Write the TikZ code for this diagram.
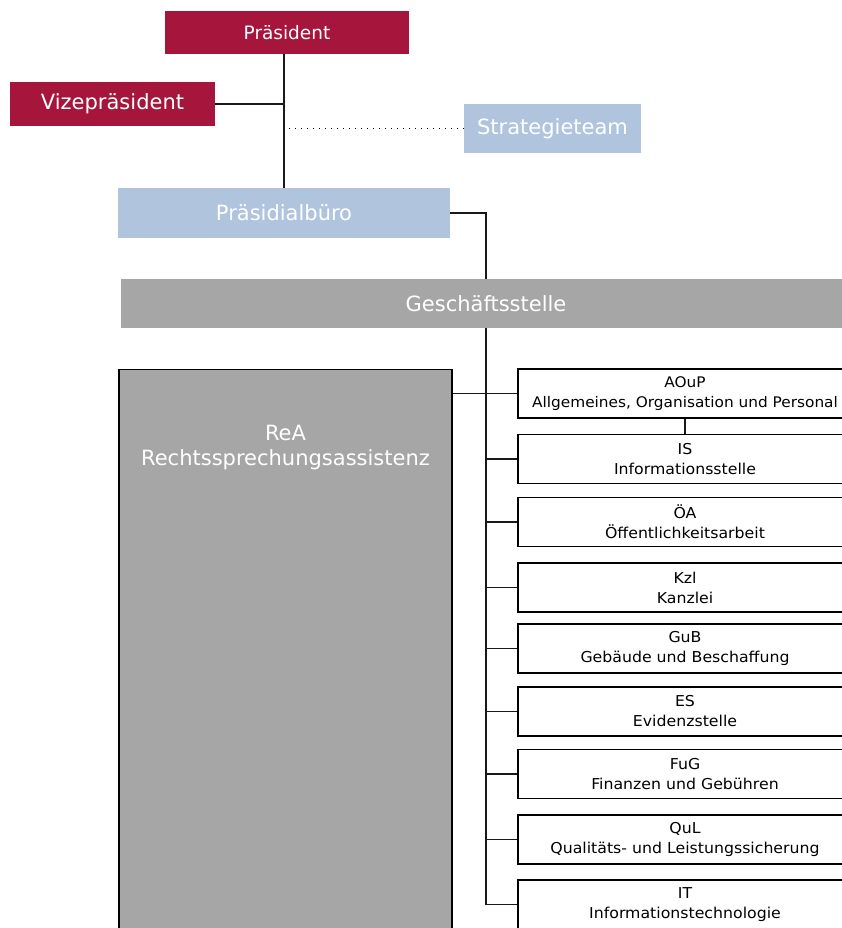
\documentclass[tikz,border=0pt]{standalone}
\usepackage{fontspec}
\setmainfont{DejaVu Sans}
\newfontfamily\unitfont[FakeStretch=1.05]{DejaVu Sans}
\definecolor{Crimson}{HTML}{A6163C}
\definecolor{SoftBlue}{HTML}{B0C4DE}
\definecolor{MidGray}{HTML}{A6A6A6}

\begin{document}
\begin{tikzpicture}[
    % Environment Config (1 unit = 1 pixel of the chart)
    x=1pt, y=-1pt,
    ChiefBox/.style={% Style for the top management
      fill=Crimson,
      text=white,
      inner sep=0pt,
      font=\fontsize{21}{25}\selectfont
    },
    StaffBox/.style={% Style for the staff units
      fill=SoftBlue,
      text=white,
      inner sep=0pt,
      font=\fontsize{21}{25}\selectfont
    },
    OfficeBox/.style={% Style for the grey blocks
      fill=MidGray,
      text=white,
      inner sep=0pt,
      font=\fontsize{21}{25}\selectfont
    },
    UnitBox/.style={% Style for the departments
      draw,
      fill=white,
      line width=1.2pt,
      align=center,
      inner sep=0pt,
      minimum width=334pt,
      minimum height=49pt,
      font=\unitfont\fontsize{15}{20}\selectfont
    },
    Wire/.style={% Style for the connections
      line width=1.4pt,
      black!90
    },
    Dots/.style={% Style for the dotted link
      line width=1pt,
      dash pattern=on 0.9pt off 5.1pt
    }
  ]

  \useasboundingbox (0,0) rectangle (842,928);
  \clip (0,0) rectangle (842,928);

  % Put the management and staff boxes
  \node[ChiefBox, minimum width=244pt, minimum height=43pt, font=\fontsize{18.5}{22}\selectfont]
    (Praes) at (287,32.5) {Präsident};
  \node[ChiefBox, minimum width=205pt, minimum height=44pt] (Vize) at (112.5,104) {Vizepräsident};
  \node[StaffBox, minimum width=177pt, minimum height=49pt] (Strat) at (552.5,128.5) {Strategieteam};
  \node[StaffBox, minimum width=332pt, minimum height=50pt] (Buero) at (284,213) {Präsidialbüro};
  \node[OfficeBox, minimum width=730pt, minimum height=49pt] (GS) at (486,303.5) {Geschäftsstelle};

  %===ReA block===
  \node[OfficeBox, draw=black, line width=1.2pt, align=center, anchor=north,
        minimum width=333pt, inner ysep=56pt, text depth=560pt]
    (ReA) at (285.5,369) {ReA\\Rechtssprechungsassistenz};

  %===Departments===
  \node[UnitBox, font=\unitfont\fontsize{14.6}{20}\selectfont]
    (AOuP) at (685,393.5) {AOuP\\Allgemeines, Organisation und Personal};
  \node[UnitBox] (IS) at (685,459) {IS\\Informationsstelle};
  \node[UnitBox] (OeA) at (685,522) {ÖA\\Öffentlichkeitsarbeit};
  \node[UnitBox] (Kzl) at (685,587.5) {Kzl\\Kanzlei};
  \node[UnitBox] (GuB) at (685,648.5) {GuB\\Gebäude und Beschaffung};
  \node[UnitBox] (ES) at (685,711.5) {ES\\Evidenzstelle};
  \node[UnitBox] (FuG) at (685,774) {FuG\\Finanzen und Gebühren};
  \node[UnitBox] (QuL) at (685,839.5) {QuL\\Qualitäts- und Leistungssicherung};
  \node[UnitBox] (IT) at (685,904.5) {IT\\Informationstechnologie};

  % Draw the Wires
  \draw[Wire]
  (Praes.south -| Buero.north)
      -- (Buero.north)
  (Vize.east)
      -- (Vize.east -| Buero.north)
  (Buero.east)
      -| (GS.north)
  (GS.south)
      -- (GS.south |- IT.west)
      -- (IT.west)
  (ReA.east |- AOuP.west)
      -- (AOuP.west)
  (AOuP.south)
      -- (IS.north);

  %===Branches to the departments===
  \draw[Wire]
  (GS.south |- IS.west) -- (IS.west)
  (GS.south |- OeA.west) -- (OeA.west)
  (GS.south |- Kzl.west) -- (Kzl.west)
  (GS.south |- GuB.west) -- (GuB.west)
  (GS.south |- ES.west) -- (ES.west)
  (GS.south |- FuG.west) -- (FuG.west)
  (GS.south |- QuL.west) -- (QuL.west);

  %===Strategieteam===
  \draw[Dots]
  ([xshift=5pt]Buero.north |- Strat.west)
      -- (Strat.west);

\end{tikzpicture}
\end{document}
